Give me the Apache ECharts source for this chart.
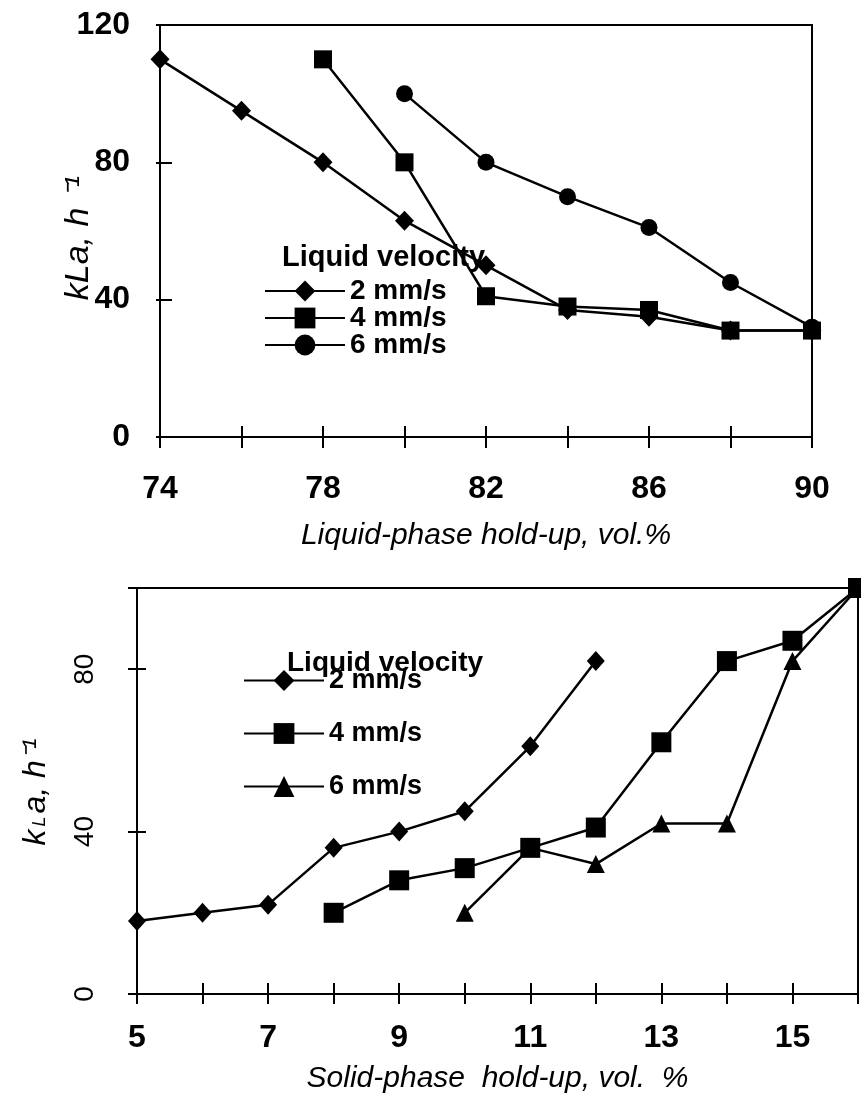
<!DOCTYPE html>
<html>
<head>
<meta charset="utf-8">
<script src="https://cdn.jsdelivr.net/npm/echarts@6/dist/echarts.min.js"></script>
<style>
  html, body { margin: 0; padding: 0; background: #fff; }
  #chart { width: 861px; height: 1102px; }
</style>
</head>
<body>
<div id="chart"></div>
<script>
  // upper plot: kLa vs liquid-phase hold-up
  const liqX2 = [74, 76, 78, 80, 82, 84, 86, 88, 90];
  const liqY2 = [110, 95, 80, 63, 50, 37, 35, 31, 31];
  const liqX4 = [78, 80, 82, 84, 86, 88, 90];
  const liqY4 = [110, 80, 41, 38, 37, 31, 31];
  const liqX6 = [80, 82, 84, 86, 88, 90];
  const liqY6 = [100, 80, 70, 61, 45, 32];

  // lower plot: kLa vs solid-phase hold-up
  const solX2 = [5, 6, 7, 8, 9, 10, 11, 12];
  const solY2 = [18, 20, 22, 36, 40, 45, 61, 82];
  const solX4 = [8, 9, 10, 11, 12, 13, 14, 15, 16];
  const solY4 = [20, 28, 31, 36, 41, 62, 82, 87, 100];
  const solX6 = [10, 11, 12, 13, 14, 15, 16];
  const solY6 = [20, 36, 32, 42, 42, 82, 100];

  const legendNames = ['2 mm/s', '4 mm/s', '6 mm/s'];
  const liqXLabels = [74, 78, 82, 86, 90];
  const solXLabels = [5, 7, 9, 11, 13, 15];
  const yLabels = [0, 40, 80, 120];

  function pairs(xs, ys) {
    return xs.map((x, i) => [x, ys[i]]);
  }

  const font = 'Liberation Sans, Arial, Helvetica, sans-serif';
  const black = '#000';

  function lineSeries(name, xi, yi, data, symbol, size) {
    return {
      name: name,
      type: 'line',
      xAxisIndex: xi,
      yAxisIndex: yi,
      data: data,
      symbol: symbol,
      symbolSize: size,
      clip: false,
      lineStyle: { color: black, width: 2.5 },
      itemStyle: { color: black },
      animation: false
    };
  }

  // second axis in each grid only draws the inner half of the ticks
  function innerX(grid, min, max, step) {
    return {
      type: 'value', gridIndex: grid, position: 'bottom', min: min, max: max, interval: step,
      axisLine: { show: false }, axisLabel: { show: false }, splitLine: { show: false },
      axisTick: { show: true, inside: true, length: 11, lineStyle: { color: black, width: 2 } }
    };
  }
  function innerY(grid, min, max, step, len) {
    return {
      type: 'value', gridIndex: grid, position: 'left', min: min, max: max, interval: step,
      axisLine: { show: false }, axisLabel: { show: false }, splitLine: { show: false },
      axisTick: { show: true, inside: true, length: len, lineStyle: { color: black, width: 2 } }
    };
  }

  const chart = echarts.init(document.getElementById('chart'));
  chart.setOption({
    backgroundColor: '#fff',
    animation: false,
    grid: [
      { left: 160, top: 25, width: 652, height: 412, show: true, borderColor: black, borderWidth: 2 },
      { left: 137, top: 588, width: 721, height: 406, show: true, borderColor: black, borderWidth: 2 }
    ],
    xAxis: [
      {
        type: 'value', gridIndex: 0, min: 74, max: 90, interval: 2,
        name: 'Liquid-phase hold-up, vol.%', nameLocation: 'middle', nameGap: 84,
        nameTextStyle: { fontFamily: font, fontStyle: 'italic', fontSize: 30, color: black },
        axisLine: { lineStyle: { color: black, width: 2 } },
        axisTick: { length: 11, lineStyle: { color: black, width: 2 } },
        splitLine: { show: false },
        axisLabel: {
          margin: 36, fontFamily: font, fontWeight: 'bold', fontSize: 32, color: black,
          formatter: v => liqXLabels.indexOf(v) >= 0 ? String(v) : ''
        }
      },
      {
        type: 'value', gridIndex: 1, min: 5, max: 16, interval: 1,
        name: 'Solid-phase  hold-up, vol.  %', nameLocation: 'middle', nameGap: 70,
        nameTextStyle: { fontFamily: font, fontStyle: 'italic', fontSize: 30, color: black },
        axisLine: { lineStyle: { color: black, width: 2 } },
        axisTick: { length: 10, lineStyle: { color: black, width: 2 } },
        splitLine: { show: false },
        axisLabel: {
          margin: 28, fontFamily: font, fontWeight: 'bold', fontSize: 32, color: black,
          formatter: v => solXLabels.indexOf(v) >= 0 ? String(v) : ''
        }
      },
      innerX(0, 74, 90, 2),
      innerX(1, 5, 16, 1)
    ],
    yAxis: [
      {
        type: 'value', gridIndex: 0, min: 0, max: 120, interval: 40,
        axisLine: { show: true, lineStyle: { color: black, width: 2 } },
        axisTick: { show: true, length: 4, lineStyle: { color: black, width: 2 } },
        splitLine: { show: false },
        axisLabel: {
          margin: 30, fontFamily: font, fontWeight: 'bold', fontSize: 32, color: black,
          formatter: v => yLabels.indexOf(v) >= 0 ? String(v) : ''
        }
      },
      {
        type: 'value', gridIndex: 1, min: 0, max: 100, interval: 40,
        axisLine: { show: true, lineStyle: { color: black, width: 2 } },
        axisTick: { show: true, length: 9, lineStyle: { color: black, width: 2 } },
        splitLine: { show: false },
        axisLabel: {
          margin: 38, rotate: 90, fontFamily: font, fontSize: 28, color: black,
          formatter: v => (v === 0 || v === 40 || v === 80) ? String(v) : ''
        }
      },
      innerY(0, 0, 120, 40, 12),
      innerY(1, 0, 100, 40, 9)
    ],
    legend: [
      {
        data: legendNames, left: 259, top: 272, orient: 'vertical', itemWidth: 80, itemHeight: 26,
        itemGap: -1, selectedMode: false,
        textStyle: { fontFamily: font, fontWeight: 'bold', fontSize: 28, lineHeight: 27, color: black }
      },
      {
        data: legendNames.map(n => 'solid ' + n), left: 238, top: 662, orient: 'vertical',
        itemWidth: 80, itemHeight: 26, itemGap: 26, selectedMode: false,
        formatter: n => n.replace('solid ', ''),
        textStyle: { fontFamily: font, fontWeight: 'bold', fontSize: 27, lineHeight: 27, color: black }
      }
    ],
    graphic: [
      {
        type: 'text', left: 282, top: 243, z: 10,
        style: { text: 'Liquid velocity', font: 'bold 29px ' + font, fill: black }
      },
      {
        type: 'text', left: 287, top: 649, z: 10,
        style: { text: 'Liquid velocity', font: 'bold 28px ' + font, fill: black }
      },
      {
        type: 'text', x: 79, y: 238, rotation: Math.PI / 2,
        style: {
          text: 'kLa, h ⁻¹', font: 'italic 34px ' + font, fill: black,
          align: 'center', verticalAlign: 'middle'
        }
      },
      {
        type: 'text', x: 36, y: 792, rotation: Math.PI / 2,
        style: {
          text: '{a|k}{b|L}{a|a, h⁻¹}', fill: black, align: 'center', verticalAlign: 'middle',
          rich: {
            a: { fontFamily: font, fontStyle: 'italic', fontSize: 32, fill: black },
            b: { fontFamily: font, fontStyle: 'italic', fontSize: 18, fill: black, padding: [8, 3, 0, 3] }
          }
        }
      }
    ],
    series: [
      lineSeries('2 mm/s', 0, 0, pairs(liqX2, liqY2), 'diamond', [19, 20]),
      lineSeries('4 mm/s', 0, 0, pairs(liqX4, liqY4), 'rect', 18),
      lineSeries('6 mm/s', 0, 0, pairs(liqX6, liqY6), 'circle', 17),
      lineSeries('solid 2 mm/s', 1, 1, pairs(solX2, solY2), 'diamond', [18, 20]),
      lineSeries('solid 4 mm/s', 1, 1, pairs(solX4, solY4), 'rect', 20),
      lineSeries('solid 6 mm/s', 1, 1, pairs(solX6, solY6), 'triangle', 18)
    ]
  });
</script>
</body>
</html>
